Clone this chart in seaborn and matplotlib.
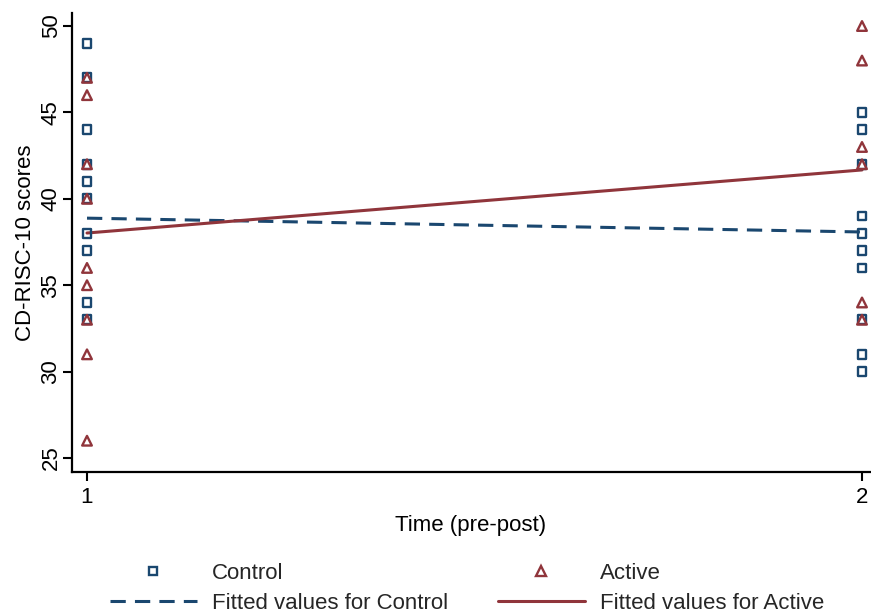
import numpy as np
import pandas as pd
import matplotlib
matplotlib.use("Agg")
import matplotlib.pyplot as plt
from matplotlib.lines import Line2D
import seaborn as sns

# CD-RISC-10 scores by group at each time point
control_t1 = [49, 47, 44, 42, 41, 40, 38, 37, 34, 33]
control_t2 = [45, 44, 42, 39, 38, 37, 36, 33, 31, 30]
active_t1 = [47, 46, 42, 40, 36, 35, 33, 31, 26]
active_t2 = [50, 48, 43, 42, 34, 33]

# Fitted values (linear fit of score on time) for each group
fit_times = [1, 2]
fit_control = [38.88, 38.08]
fit_active = [38.02, 41.67]

xticks = [1, 2]
yticks = [25, 30, 35, 40, 45, 50]

NAVY = "#1a476f"
MAROON = "#90353b"
FS = 16

sns.set_theme(style="white")
plt.rcParams["font.family"] = ["Liberation Sans", "DejaVu Sans"]

df_c = pd.DataFrame({"time": [1] * len(control_t1) + [2] * len(control_t2),
                     "score": control_t1 + control_t2})
df_a = pd.DataFrame({"time": [1] * len(active_t1) + [2] * len(active_t2),
                     "score": active_t1 + active_t2})
df_fc = pd.DataFrame({"time": fit_times, "score": fit_control})
df_fa = pd.DataFrame({"time": fit_times, "score": fit_active})

fig = plt.figure(figsize=(8.71, 6.13), dpi=100)
W, H = 871, 613
ax = fig.add_axes([72 / W, 1 - 472 / H, (870 - 72) / W, (472 - 13) / H])

sns.scatterplot(data=df_c, x="time", y="score", ax=ax, marker="s", s=40,
                color=NAVY, facecolor="none", edgecolor=NAVY, linewidth=1.7, zorder=3)
sns.scatterplot(data=df_a, x="time", y="score", ax=ax, marker="^", s=48,
                color=MAROON, facecolor="none", edgecolor=MAROON, linewidth=1.7, zorder=3)
sns.lineplot(data=df_fc, x="time", y="score", ax=ax, color=NAVY, lw=2.2,
             linestyle=(0, (5, 3)), zorder=2)
sns.lineplot(data=df_fa, x="time", y="score", ax=ax, color=MAROON, lw=2.2, zorder=2)

ax.set_xlim(1 - 15 / 775, 2 + 8 / 775)
ax.set_ylim(25 - 14 / 17.28, 50 + 13 / 17.28)
ax.set_xticks(xticks)
ax.set_yticks(yticks)
ax.set_xticklabels([str(t) for t in xticks])
ax.set_yticklabels([str(t) for t in yticks], rotation=90, va="center")

for side in ("top", "right"):
    ax.spines[side].set_visible(False)
for side in ("left", "bottom"):
    ax.spines[side].set_color("black")
    ax.spines[side].set_linewidth(1.6)
ax.tick_params(axis="both", direction="out", length=6.5, width=1.5,
               color="black", labelsize=FS, labelcolor="black",
               left=True, bottom=True)
ax.tick_params(axis="y", pad=1)
ax.tick_params(axis="x", pad=4)
ax.set_xlabel("Time (pre-post)", fontsize=FS, color="black", labelpad=5)
ax.set_ylabel("CD-RISC-10 scores", fontsize=FS, color="black", labelpad=3)
ax.grid(False)

handles = [
    Line2D([], [], marker="s", linestyle="none", markersize=6.3, markerfacecolor="none",
           markeredgecolor=NAVY, markeredgewidth=1.7),
    Line2D([], [], color=NAVY, lw=2.2, linestyle=(0, (5, 3))),
    Line2D([], [], marker="^", linestyle="none", markersize=6.8, markerfacecolor="none",
           markeredgecolor=MAROON, markeredgewidth=1.7),
    Line2D([], [], color=MAROON, lw=2.2),
]
labels = ["Control", "Fitted values for Control", "Active", "Fitted values for Active"]
fig.legend(handles, labels, ncol=2, loc="lower left", bbox_to_anchor=(110 / W, -1 / H),
           frameon=False, fontsize=FS, handlelength=3.9, handletextpad=0.68,
           columnspacing=2.25, labelspacing=0.4, borderaxespad=0, borderpad=0)

fig.savefig("out.png", dpi=100)
